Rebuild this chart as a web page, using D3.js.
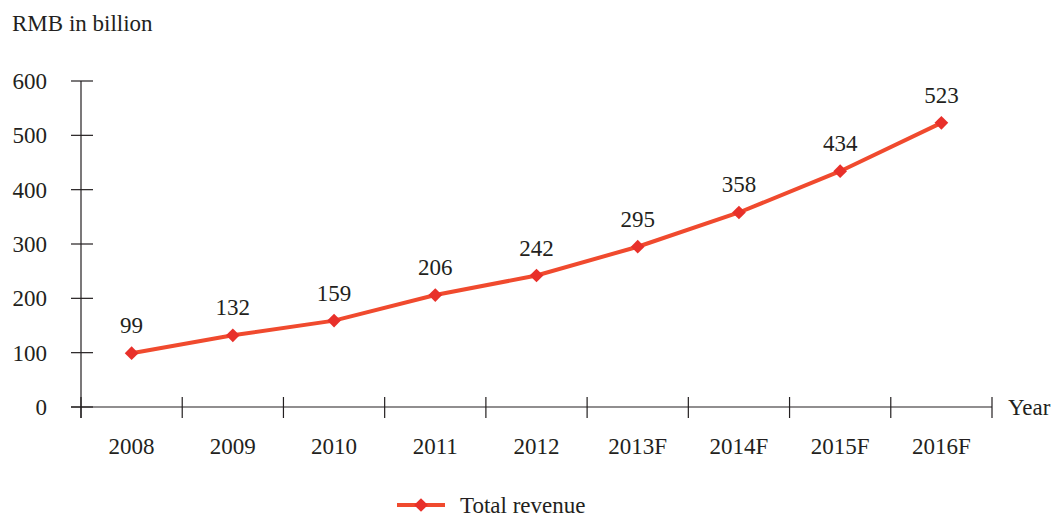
<!DOCTYPE html>
<html>
<head>
<meta charset="utf-8">
<script src="https://cdn.jsdelivr.net/npm/d3@7"></script>
<style>
  body { margin: 0; background: #fff; }
  svg { display: block; font-family: "Liberation Serif", "DejaVu Serif", serif; }
</style>
</head>
<body>
<svg width="1058" height="517"></svg>
<script>
// chart data
const years = ['2008', '2009', '2010', '2011', '2012', '2013F', '2014F', '2015F', '2016F'];
const revenue = [99, 132, 159, 206, 242, 295, 358, 434, 523];
const yTicks = [0, 100, 200, 300, 400, 500, 600];

const textColor = '#231f20';
const lineColor = '#f04a2e';
const markerColor = '#e8302a';
const fontSize = '23px';

const svg = d3.select('svg');

// plot area
const margin = { top: 81, left: 81, right: 66, bottom: 110 };
const width = 1058 - margin.left - margin.right;
const height = 517 - margin.top - margin.bottom;

const x = d3.scaleBand().domain(years).range([0, width]);
const y = d3.scaleLinear().domain([0, 600]).range([height, 0]);

const g = svg.append('g').attr('transform', `translate(${margin.left}, ${margin.top})`);

// y axis: line plus crossing ticks
g.append('line')
  .attr('x1', 0).attr('x2', 0)
  .attr('y1', y(600)).attr('y2', y(0) + 11)
  .attr('stroke', textColor).attr('stroke-width', 1.2);

g.selectAll('.ytick').data(yTicks)
  .enter().append('line')
    .attr('class', 'ytick')
    .attr('x1', -10).attr('x2', 12)
    .attr('y1', d => y(d)).attr('y2', d => y(d))
    .attr('stroke', textColor).attr('stroke-width', 1.2);

g.selectAll('.ylabel').data(yTicks)
  .enter().append('text')
    .attr('class', 'ylabel')
    .attr('x', -34)
    .attr('y', d => y(d))
    .attr('dy', '0.35em')
    .attr('text-anchor', 'end')
    .attr('fill', textColor)
    .style('font-size', fontSize)
    .text(d => d);

// x axis line with ticks at band edges
g.append('line')
  .attr('x1', -10).attr('x2', width)
  .attr('y1', y(0)).attr('y2', y(0))
  .attr('stroke', textColor).attr('stroke-width', 1.2);

const edges = years.map(d => x(d) + x.bandwidth()).concat([0]);
g.selectAll('.xtick').data(edges)
  .enter().append('line')
    .attr('class', 'xtick')
    .attr('x1', d => d).attr('x2', d => d)
    .attr('y1', y(0) - 10).attr('y2', y(0) + 11)
    .attr('stroke', textColor).attr('stroke-width', 1.2);

g.selectAll('.xlabel').data(years)
  .enter().append('text')
    .attr('class', 'xlabel')
    .attr('x', d => x(d) + x.bandwidth() / 2)
    .attr('y', y(0) + 47)
    .attr('text-anchor', 'middle')
    .attr('fill', textColor)
    .style('font-size', fontSize)
    .text(d => d);

// axis titles
svg.append('text')
  .attr('x', 12).attr('y', 31)
  .attr('fill', textColor)
  .style('font-size', fontSize)
  .text('RMB in billion');

g.append('text')
  .attr('x', width + 16).attr('y', y(0))
  .attr('dy', '0.35em')
  .attr('fill', textColor)
  .style('font-size', fontSize)
  .text('Year');

// revenue line
const pts = years.map((d, i) => ({ year: d, value: revenue[i] }));
const line = d3.line()
  .x(d => x(d.year) + x.bandwidth() / 2)
  .y(d => y(d.value));

g.append('path')
  .datum(pts)
  .attr('d', line)
  .attr('fill', 'none')
  .attr('stroke', lineColor)
  .attr('stroke-width', 4);

const diamond = d3.symbol().type(d3.symbolDiamond2).size(120);

g.selectAll('.marker').data(pts)
  .enter().append('path')
    .attr('class', 'marker')
    .attr('d', diamond)
    .attr('transform', d => `translate(${x(d.year) + x.bandwidth() / 2}, ${y(d.value)})`)
    .attr('fill', markerColor);

g.selectAll('.vlabel').data(pts)
  .enter().append('text')
    .attr('class', 'vlabel')
    .attr('x', d => x(d.year) + x.bandwidth() / 2)
    .attr('y', d => y(d.value) - 20)
    .attr('text-anchor', 'middle')
    .attr('fill', textColor)
    .style('font-size', fontSize)
    .text(d => d.value);

// legend
const legend = svg.append('g').attr('transform', 'translate(397, 505)');
legend.append('line')
  .attr('x1', 0).attr('x2', 48)
  .attr('stroke', lineColor).attr('stroke-width', 4);
legend.append('path')
  .attr('d', diamond)
  .attr('transform', 'translate(24, 0)')
  .attr('fill', markerColor);
legend.append('text')
  .attr('x', 63).attr('dy', '0.35em')
  .attr('fill', textColor)
  .style('font-size', fontSize)
  .text('Total revenue');
</script>
</body>
</html>
